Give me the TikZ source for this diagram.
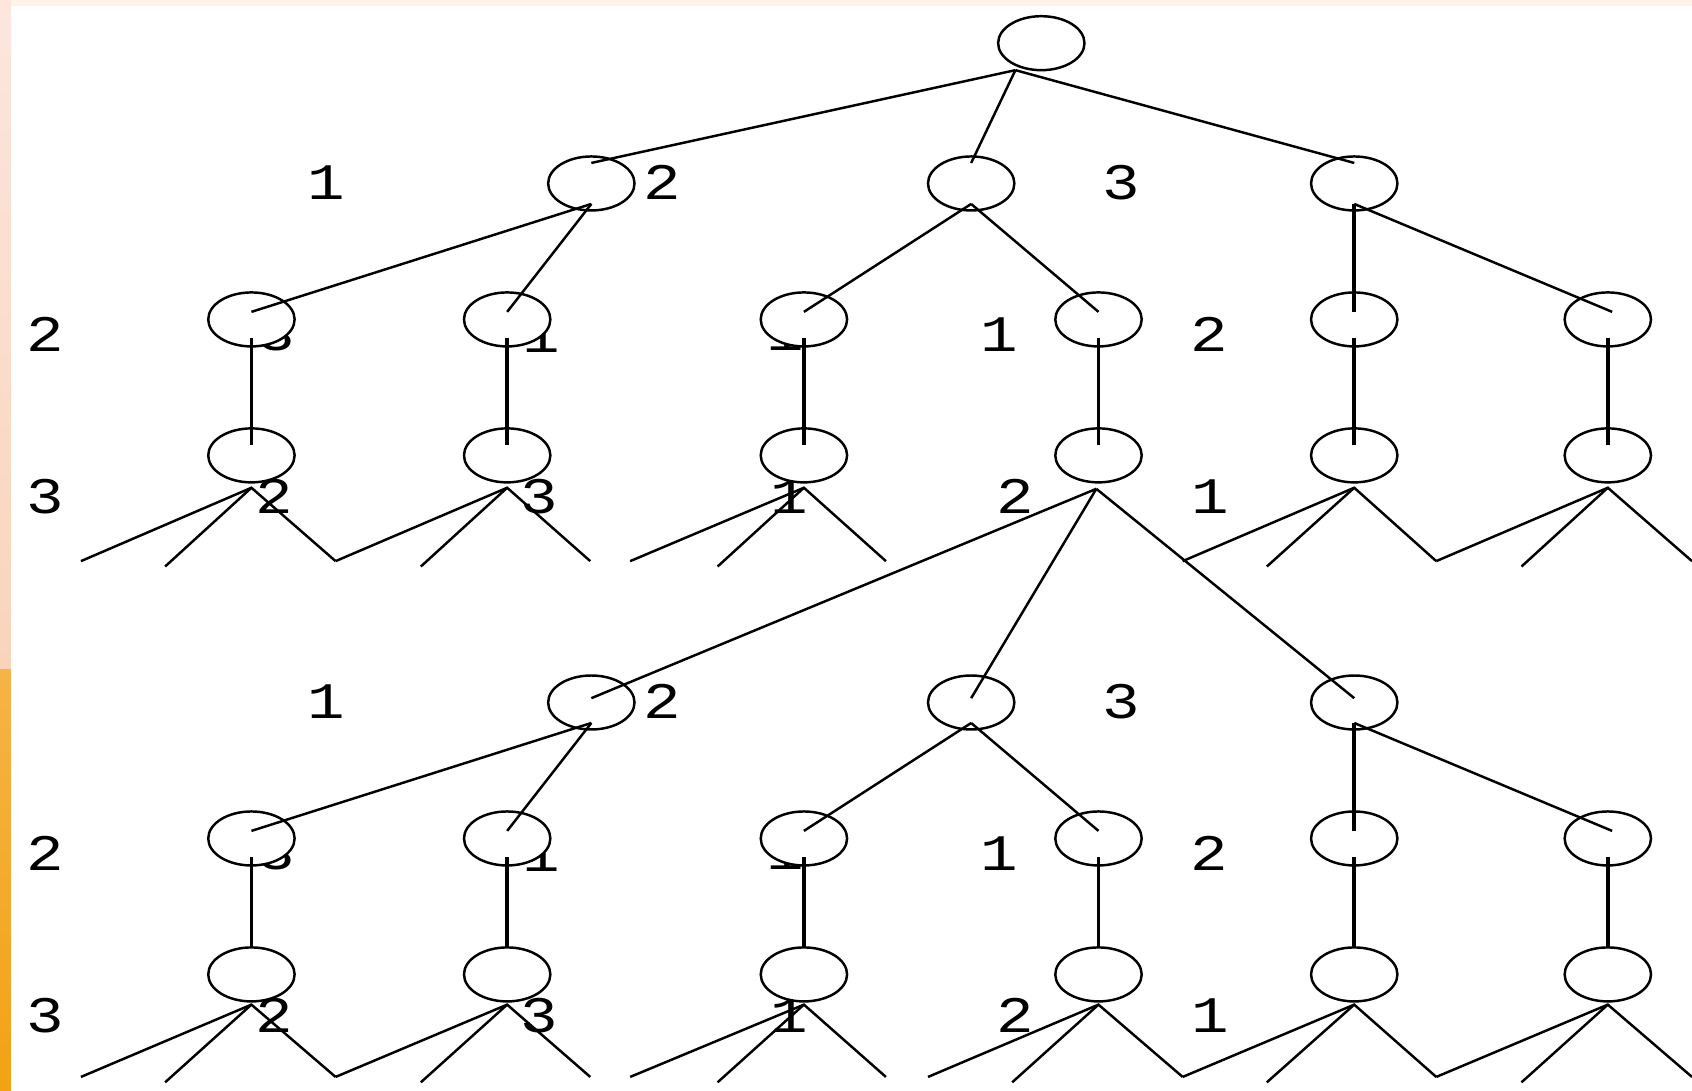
\documentclass[tikz,border=0pt]{standalone}
\usepackage{fontspec}
\usepackage{graphicx}
\usetikzlibrary{shapes.geometric}
\newfontfamily\lblfamily{Liberation Mono}
\newcommand\digl[1]{\scalebox{1.22}[1]{#1}}
\definecolor{edgepink}{RGB}{252,230,222}
\definecolor{edgepeach}{RGB}{249,212,186}
\definecolor{edgeorangeA}{RGB}{246,180,70}
\definecolor{edgeorangeB}{RGB}{242,162,20}
\definecolor{edgecream}{RGB}{253,243,230}
\begin{document}
\begin{tikzpicture}[x=0.01cm,y=-0.01cm,
  vtx/.style={ellipse, draw=black, line width=0.65pt, fill=white,
              minimum width=0.8cm, minimum height=0.5cm, inner sep=0pt},
  lbl/.style={font=\lblfamily\fontsize{13.5}{13.5}\selectfont, inner sep=0pt, text=black},
  tedge/.style={line width=0.65pt, black},
  vedge/.style={line width=0.95pt, black}]
\useasboundingbox (0,0) rectangle (1568,1011);
% background
\fill[white] (0,0) rectangle (1568,1011);
\shade[top color=edgepink, bottom color=edgepeach] (0,0) rectangle (10,620);
\shade[top color=edgeorangeA, bottom color=edgeorangeB] (0,620) rectangle (10,1011);
\fill[edgecream] (10,0) rectangle (1568,6);

% labels (drawn first, partly covered by the nodes)
\foreach \t/\dy in {T/0,B/481}{
  \node[lbl] (\t La) at (302,169+\dy) {\digl{1}};
  \node[lbl] (\t Lb) at (614,169+\dy) {\digl{2}};
  \node[lbl] (\t Lc) at (1039,169+\dy) {\digl{3}};
  \node[lbl] (\t Ld) at (42,310+\dy) {\digl{2}};
  \node[lbl] (\t Le) at (256,309+\dy) {\digl{3}};
  \node[lbl] (\t Lf) at (502,311+\dy) {\digl{1}};
  \node[lbl] (\t Lg) at (728,309+\dy) {\digl{1}};
  \node[lbl] (\t Lh) at (926,310+\dy) {\digl{1}};
  \node[lbl] (\t Li) at (1121,310+\dy) {\digl{2}};
  \node[lbl] (\t Lj) at (42,460+\dy) {\digl{3}};
  \node[lbl] (\t Lk) at (254,460+\dy) {\digl{2}};
  \node[lbl] (\t Ll) at (500,460+\dy) {\digl{3}};
  \node[lbl] (\t Lm) at (731,460+\dy) {\digl{1}};
  \node[lbl] (\t Ln) at (941,460+\dy) {\digl{2}};
  \node[lbl] (\t Lo) at (1122,460+\dy) {\digl{1}};
}

% nodes
\node[vtx] (r) at (965,40) {};
\foreach \t/\dy in {T/0,B/481}{
  \foreach \i/\x in {a/548,b/900,c/1255}
    \node[vtx] (\t1\i) at (\x,170+\dy) {};
  \foreach \i/\x in {a/233,b/470,c/745,d/1018,e/1255,f/1490}{
    \node[vtx] (\t2\i) at (\x,296+\dy) {};
    \node[vtx] (\t3\i) at (\x,422+\dy) {};
  }
}

% root edges
\foreach \c in {a,b,c}
  \draw[tedge] ([shift={(-24,25)}]r.center) -- ([shift={(0,-19)}]T1\c.center);

% level 1 -> level 2, level 2 -> level 3
\foreach \t/\ve in {T/-10,B/-25}{
  \foreach \p/\c in {a/a,a/b,b/c,b/d}
    \draw[tedge] ([shift={(0,19)}]\t1\p.center) -- ([shift={(0,-7)}]\t2\c.center);
  \draw[vedge] ([shift={(0,19)}]\t1c.center) -- ([shift={(0,-7)}]\t2e.center);
  \draw[tedge] ([shift={(0,19)}]\t1c.center) -- ([shift={(4,-7)}]\t2f.center);
  \foreach \i in {a,b,c,d,e,f}
    \draw[vedge] ([shift={(0,17)}]\t2\i.center) -- ([shift={(0,\ve)}]\t3\i.center);
}

% level 3 of the upper tree, node d -> lower tree
\foreach \c in {a,b,c}
  \draw[tedge] ([shift={(-2,31)}]T3d.center) -- ([shift={(0,-4)}]B1\c.center);

% fans below level 3
\foreach \i/\xa/\xb/\xc in {a/75/153/311,b/311/390/547,c/584/665/821,e/1096/1174/1331,f/1331/1410/1568}{
  \coordinate (T\i p) at (\xa,520);
  \coordinate (T\i q) at (\xb,525);
  \coordinate (T\i s) at (\xc,520);
  \draw[tedge] (T\i p) -- ([shift={(0,30)}]T3\i.center) -- (T\i s);
  \draw[tedge] ([shift={(0,30)}]T3\i.center) -- (T\i q);
}
\foreach \i/\xa/\xb/\xc in {a/75/153/311,b/311/390/547,c/584/665/821,d/860/938/1096,e/1096/1174/1331,f/1331/1410/1568}{
  \coordinate (B\i p) at (\xa,998);
  \coordinate (B\i q) at (\xb,1003);
  \coordinate (B\i s) at (\xc,998);
  \draw[tedge] (B\i p) -- ([shift={(0,28)}]B3\i.center) -- (B\i s);
  \draw[tedge] ([shift={(0,28)}]B3\i.center) -- (B\i q);
}
\end{tikzpicture}
\end{document}
